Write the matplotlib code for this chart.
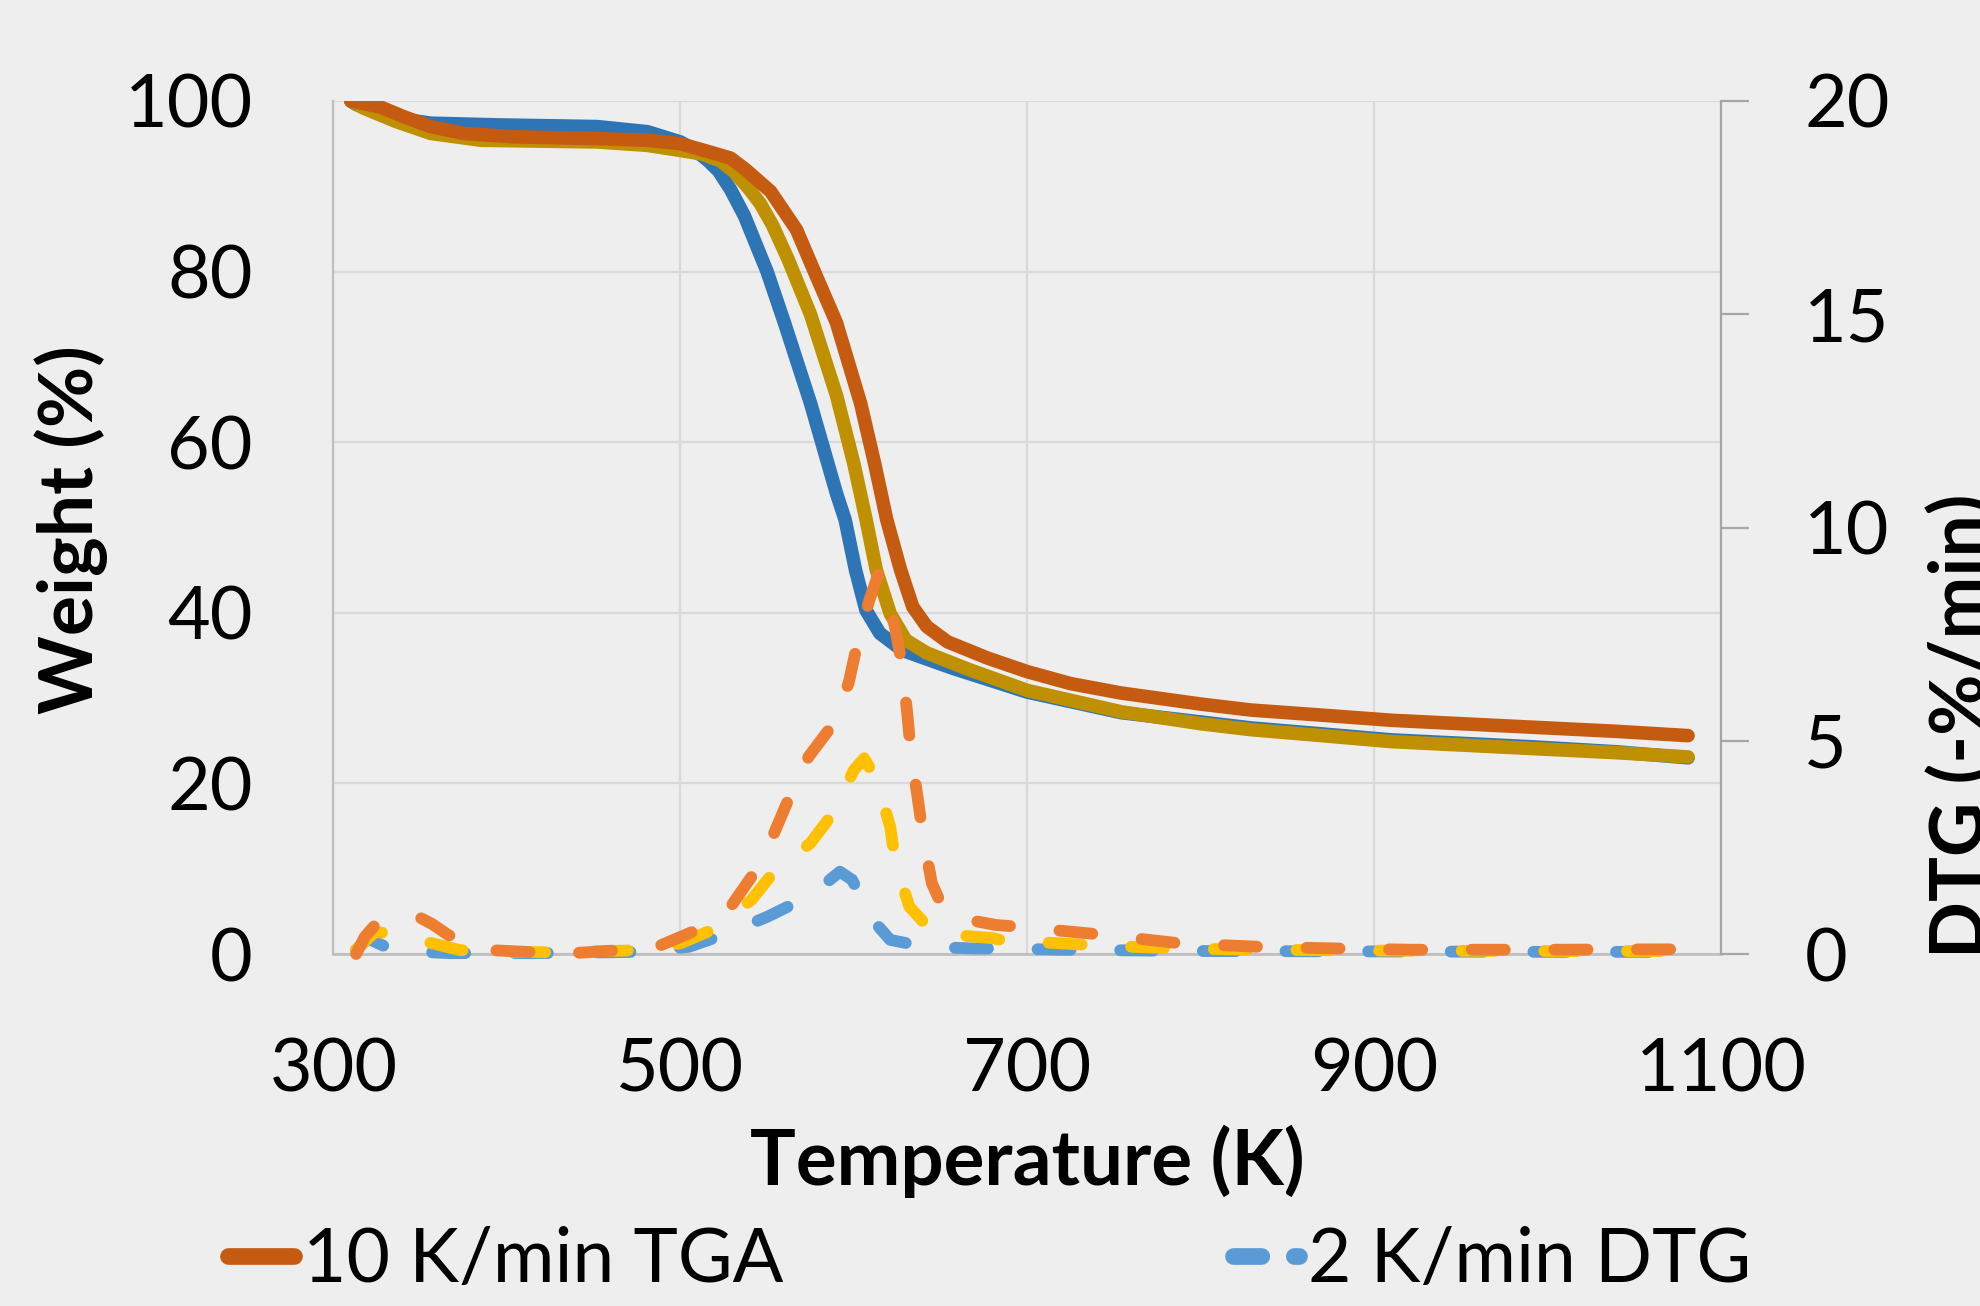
import matplotlib
matplotlib.use("Agg")
import matplotlib.pyplot as plt
from matplotlib.lines import Line2D

plt.rcParams['font.family'] = ['Lato', 'DejaVu Sans']

# ---------------- data ----------------
# TGA 10 K/min
t_tga10 = [310, 327, 340, 356, 375, 404, 452, 481, 500, 519, 529, 538, 552, 567, 576, 590,
           604, 612, 619, 627, 634, 642, 654, 677, 700, 725, 754, 800, 829, 870, 910, 950,
           990, 1040, 1081]
w_tga10 = [100, 99.3, 98.2, 97.0, 96.2, 95.8, 95.6, 95.4, 95.0, 93.9, 93.3, 91.9, 89.4, 84.9,
           80.6, 74.0, 64.5, 57.5, 50.9, 45.0, 40.7, 38.4, 36.6, 34.7, 33.1, 31.7, 30.6, 29.3,
           28.6, 28.0, 27.4, 27.0, 26.6, 26.1, 25.6]

# TGA 5 K/min
t_tga5 = [310, 317, 336, 356, 385, 452, 481, 500, 512, 523, 531, 540, 546, 553, 562, 575,
          590, 600, 607, 613, 621, 630, 642, 667, 700, 754, 800, 829, 870, 910, 950, 990,
          1040, 1081]
w_tga5 = [100, 99.2, 97.6, 96.2, 95.4, 95.2, 94.8, 94.2, 93.8, 93.0, 91.7, 89.6, 88.0, 85.5,
          81.5, 75.0, 65.5, 57.5, 51.0, 45.0, 39.9, 36.8, 35.3, 33.3, 30.9, 28.4, 27.0, 26.3,
          25.6, 24.9, 24.5, 24.1, 23.6, 23.1]

# TGA 2 K/min
t_tga2 = [310, 313, 336, 356, 394, 452, 481, 500, 508, 516, 522, 529, 537, 545, 550, 560,
          575, 590, 595, 601, 607, 615, 628, 657, 700, 754, 800, 829, 870, 910, 950, 990,
          1040, 1081]
w_tga2 = [100, 99.6, 98.0, 97.4, 97.2, 97.0, 96.4, 95.2, 94.3, 93.0, 91.8, 89.6, 86.5, 82.5,
          80.0, 74.0, 64.6, 54.0, 50.9, 45.0, 40.3, 37.6, 35.6, 33.5, 30.7, 28.3, 27.2, 26.5,
          25.8, 25.1, 24.7, 24.3, 23.7, 23.0]

# DTG 10 K/min
t_dtg10 = [313, 318, 324, 336, 349, 357, 366, 378, 391, 416, 442, 461, 489, 507, 529, 541,
           554, 563, 574, 587, 597, 602, 609, 614, 619, 624, 628, 631, 633, 637, 640, 645,
           651, 657, 682, 695, 744, 788, 833, 878, 922, 1000, 1078]
d_dtg10 = [0.0, 0.4, 0.68, 0.85, 0.87, 0.7, 0.45, 0.25, 0.09, 0.04, 0.03, 0.08, 0.21, 0.52,
           1.11, 1.81, 2.83, 3.69, 4.63, 5.33, 6.35, 7.28, 8.3, 8.89, 8.65, 7.6, 6.74, 5.56,
           4.7, 3.61, 2.75, 1.66, 1.11, 0.87, 0.68, 0.64, 0.45, 0.25, 0.17, 0.13, 0.1, 0.1,
           0.11]

# DTG 5 K/min
t_dtg5 = [313, 324, 338, 353, 373, 400, 425, 469, 500, 518, 541, 554, 575, 588, 600, 606,
          613, 621, 624, 632, 646, 680, 685, 736, 785, 833, 900, 1000, 1075]
d_dtg5 = [0.1, 0.52, 0.45, 0.29, 0.09, 0.05, 0.04, 0.08, 0.25, 0.56, 1.27, 1.93, 2.6, 3.3,
          4.31, 4.59, 4.08, 2.98, 2.13, 1.11, 0.49, 0.37, 0.33, 0.21, 0.13, 0.1, 0.08, 0.07,
          0.07]

# DTG 2 K/min
t_dtg2 = [313, 320, 330, 345, 367, 420, 477, 505, 525, 550, 570, 585, 592, 599, 605, 613,
          621, 641, 669, 682, 720, 800, 900, 1000, 1075]
d_dtg2 = [0.1, 0.36, 0.17, 0.06, 0.02, 0.02, 0.05, 0.17, 0.45, 0.87, 1.27, 1.7, 1.93, 1.74,
          1.27, 0.7, 0.33, 0.17, 0.13, 0.13, 0.1, 0.07, 0.06, 0.05, 0.05]

x_ticks = [300, 500, 700, 900, 1100]
w_ticks = [0, 20, 40, 60, 80, 100]
d_ticks = [0, 5, 10, 15, 20]

# ---------------- figure ----------------
W, H = 1981, 1306
bg = '#EEEEEE'
fig = plt.figure(figsize=(W / 100, H / 100), dpi=100, facecolor=bg)
L, R, T, B = 333.5, 1721, 101, 954
ax = fig.add_axes([L / W, 1 - B / H, (R - L) / W, (B - T) / H])
ax.set_facecolor(bg)

c_tga10, c_tga5, c_tga2 = '#C55A11', '#BF9000', '#2E75B6'
c_dtg10, c_dtg5, c_dtg2 = '#ED7D31', '#FFC000', '#5B9BD5'

lw_tga = 9.8
lw_dtg = 8.5
dash = (2.8, 4.2)

kw = dict(lw=lw_tga, solid_capstyle='round', solid_joinstyle='round')
ax.plot(t_tga2, w_tga2, color=c_tga2, zorder=3, **kw)
ax.plot(t_tga5, w_tga5, color=c_tga5, zorder=4, **kw)
ax.plot(t_tga10, w_tga10, color=c_tga10, zorder=5, **kw)

ax.set_xlim(300, 1100)
ax.set_ylim(0, 100)
ax.set_xticks(x_ticks)
ax.set_yticks(w_ticks)
ax.grid(True, color='#D9D9D9', lw=1.6, zorder=0)
ax.set_axisbelow(True)
for s in ['top', 'right']:
    ax.spines[s].set_visible(False)
ax.spines['left'].set_color('#BFBFBF')
ax.spines['left'].set_linewidth(1.6)
ax.spines['bottom'].set_color('#BFBFBF')
ax.spines['bottom'].set_linewidth(2.0)
ax.tick_params(axis='both', length=0, labelsize=53, colors='black')
ax.tick_params(axis='y', pad=58)
ax.tick_params(axis='x', pad=60)

ax2 = ax.twinx()
ax2.set_ylim(0, 20)
ax2.set_yticks(d_ticks)
dkw = dict(lw=lw_dtg, dashes=dash, dash_capstyle='round', dash_joinstyle='round', clip_on=False)
ax2.plot(t_dtg2, d_dtg2, color=c_dtg2, **dkw)
ax2.plot(t_dtg5, d_dtg5, color=c_dtg5, **dkw)
ax2.plot(t_dtg10, d_dtg10, color=c_dtg10, **dkw)
for s in ['top', 'left', 'bottom']:
    ax2.spines[s].set_visible(False)
ax2.spines['right'].set_color('#A6A6A6')
ax2.spines['right'].set_linewidth(1.6)
ax2.tick_params(axis='y', direction='out', length=20, width=1.6, color='#A6A6A6',
                labelsize=53, pad=40)

# axis titles
fig.text((L + R) / 2 / W, 1 - 1185 / H, 'Temperature (K)', ha='center', va='baseline',
         fontsize=55, fontweight='bold')
fig.text(71.5 / W, 1 - 530 / H, 'Weight (%)', ha='center', va='center', rotation=90,
         fontsize=54, fontweight='bold')
fig.text(1927 / W, 1 - 958 / H, 'DTG (-%/min)', ha='left', va='bottom', rotation=90,
         fontsize=54, fontweight='bold')

# legend
lg_dash = (1.7, 1.95)
handles = [
    Line2D([], [], color=c_tga10, lw=12, solid_capstyle='round'),
    Line2D([], [], color=c_tga5, lw=12, solid_capstyle='round'),
    Line2D([], [], color=c_tga2, lw=12, solid_capstyle='round'),
    Line2D([], [], color=c_dtg2, lw=12, dashes=lg_dash, dash_capstyle='round'),
    Line2D([], [], color=c_dtg5, lw=12, dashes=lg_dash, dash_capstyle='round'),
    Line2D([], [], color=c_dtg10, lw=12, dashes=lg_dash, dash_capstyle='round'),
]
labels = ['10 K/min TGA', '5 K/min TGA', '2 K/min TGA',
          '2 K/min DTG', '5 K/min DTG', '10 K/min DTG']
fig.legend(handles, labels, ncol=2, loc='upper left', bbox_to_anchor=(228 / W, 1 - 1226 / H),
           frameon=False, fontsize=54, borderpad=0, borderaxespad=0, handlelength=0.88,
           handletextpad=0.12, columnspacing=6.0, labelspacing=0.3)

fig.savefig('out.png', dpi=100, facecolor=bg)
